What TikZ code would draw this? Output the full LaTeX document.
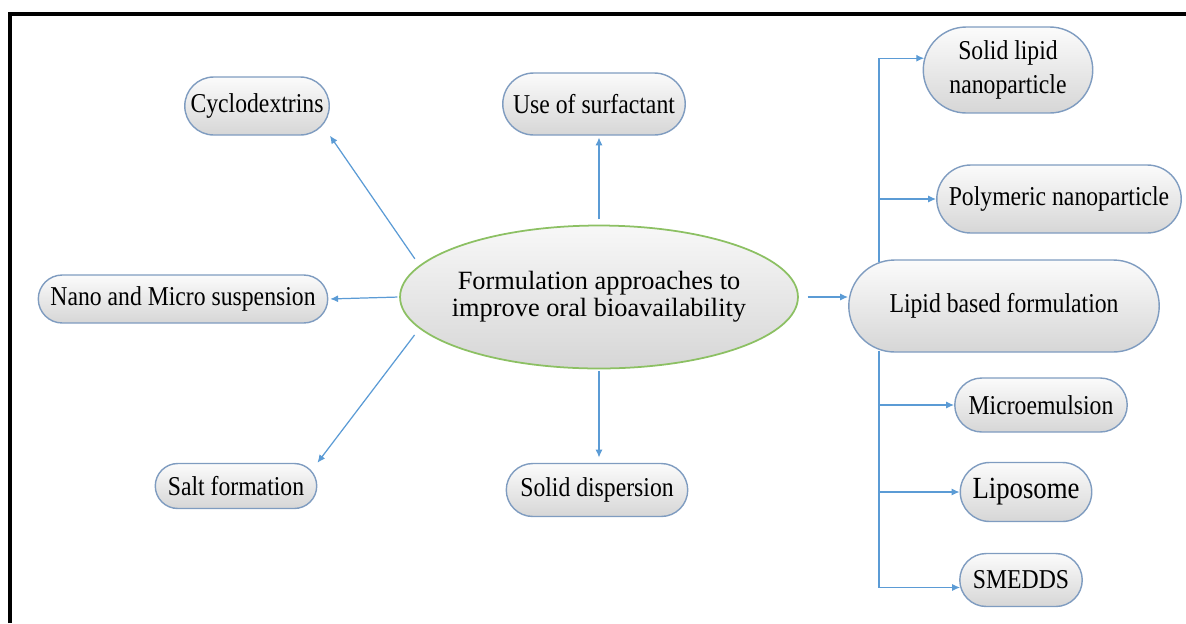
\documentclass[tikz,border=0pt]{standalone}
\usepackage{fontspec}
\setmainfont[FakeStretch=0.87]{Liberation Serif}
\newfontfamily\plainserif{Liberation Serif}
\usepackage{tikz}
\usetikzlibrary{shapes,arrows.meta,positioning,calc}

\definecolor{boxline}{HTML}{7F9CC0}
\definecolor{hubline}{HTML}{8CC063}
\definecolor{arrowblue}{HTML}{5B9BD5}

\begin{document}
\begin{tikzpicture}[x=0.02cm, y=-0.02cm,
    box/.style={rounded rectangle, draw=boxline, line width=0.8pt, top color=gray!3, bottom color=gray!32, align=center, inner sep=1pt, font=\fontsize{15.5}{19}\selectfont},
    hub/.style={ellipse, draw=hubline, line width=1pt, top color=gray!6, bottom color=gray!32, align=center, inner ysep=0pt, inner xsep=-0.2cm, font=\plainserif\fontsize{15}{15.5}\selectfont},
    arrow/.style={-{Latex[length=4.5pt,width=4pt]}, draw=arrowblue, line width=0.7pt}
]
    \useasboundingbox (0,0) rectangle (1186,623);

    % Frame (top and left edges only)
    \draw[line width=2.4pt] (10,623) -- (10,14) -- (1186,14);

    % Centre
    \node[hub, minimum width=7.96cm, minimum height=2.86cm] (centre) at (599,297) {Formulation approaches to\\improve oral bioavailability};

    % Left and middle branches
    \node[box, minimum width=2.96cm, minimum height=1.16cm] (cyclo) at (257,106) {Cyclodextrins};
    \node[box, minimum width=3.72cm, minimum height=1.24cm] (surf) at (594,104) {Use of surfactant};
    \node[box, minimum width=5.86cm, minimum height=0.96cm] (nano) at (183,299) {Nano and Micro suspension};
    \node[box, minimum width=3.3cm, minimum height=0.9cm] (salt) at (236,486) {Salt formation};
    \node[box, minimum width=3.7cm, minimum height=1.06cm] (disp) at (597,490) {Solid dispersion};

    % Lipid branch
    \node[box, minimum width=6.28cm, minimum height=1.84cm] (lipid) at (1004,306) {Lipid based formulation};
    \node[box, minimum width=3.46cm, minimum height=1.72cm] (sln) at (1008,70) {Solid lipid\\nanoparticle};
    \node[box, minimum width=4.96cm, minimum height=1.36cm] (poly) at (1059,199) {Polymeric nanoparticle};
    \node[box, minimum width=3.52cm, minimum height=1.08cm] (micro) at (1041,405) {Microemulsion};
    \node[box, minimum width=2.7cm, minimum height=1.18cm, font=\fontsize{17.5}{20}\selectfont] (lipo) at (1026,492) {Liposome};
    \node[box, minimum width=2.52cm, minimum height=1.06cm] (smedds) at (1021,580) {SMEDDS};

    % Arrows out of the centre
    \draw[arrow, shorten <=4.5pt] (centre.170) -- (cyclo.east |- cyclo.south);
    \draw[arrow, shorten <=4.5pt] (centre.190) -- (salt.east |- salt.north);
    \draw[arrow, shorten <=1pt, shorten >=1pt] (centre.west) -- (nano.east);
    \draw[arrow, shorten <=3pt, shorten >=1pt] (centre.north) -- (centre.north |- surf.south);
    \draw[arrow, shorten <=1pt, shorten >=3pt] (centre.south) -- (centre.south |- disp.north);
    \draw[arrow, shorten <=5pt] (centre.east) -- (centre.east -| lipid.west);

    % Trunk of the lipid branch
    \coordinate (up) at (879,262);
    \coordinate (dn) at (879,351);
    \draw[arrow] (up) |- (sln.172);
    \draw[arrow] (up) |- (poly.west);
    \draw[arrow] (dn) |- (micro.west);
    \draw[arrow] (dn) |- (lipo.west);
    \draw[arrow] (dn) |- (smedds.187);
\end{tikzpicture}
\end{document}
